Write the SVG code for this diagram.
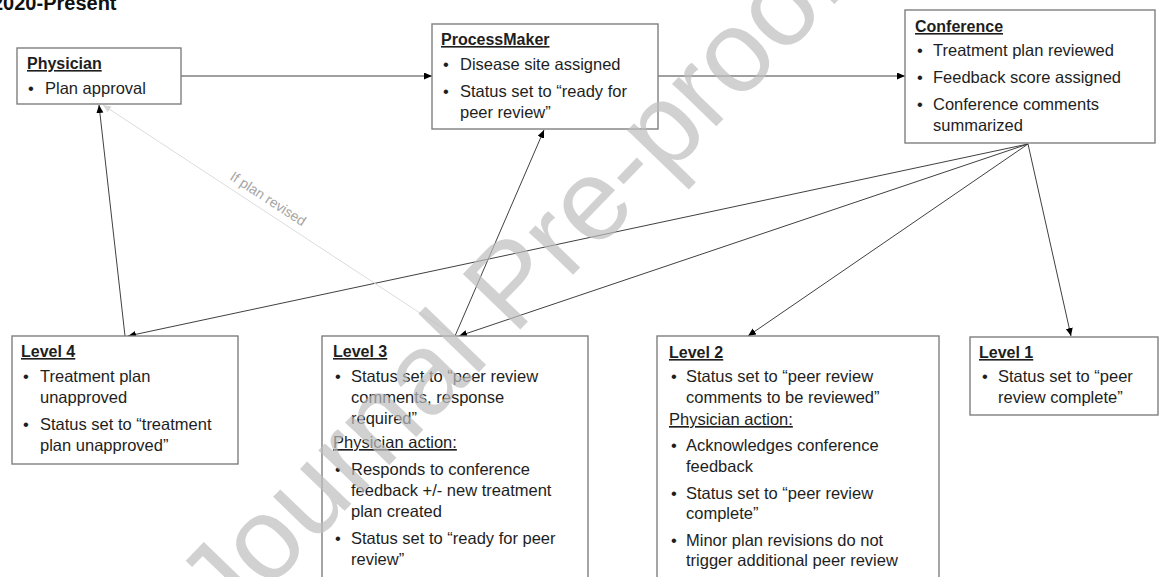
<svg xmlns="http://www.w3.org/2000/svg" width="1160" height="577" viewBox="0 0 1160 577">
<style>
.box{fill:#fff;stroke:#7f7f7f;stroke-width:1.4}
.t{font-family:"Liberation Sans",Arial,sans-serif;font-size:16.5px;fill:#1e1e1e}
.h{font-family:"Liberation Sans",Arial,sans-serif;font-size:16px;font-weight:bold;fill:#1e1e1e;text-decoration:underline}
.u{text-decoration:underline}
.c{stroke:#404040;stroke-width:1;fill:none;marker-end:url(#ah)}
.g{stroke:#dcdcdc;stroke-width:1;fill:none;marker-end:url(#ahg)}
</style>
<defs>
<marker id="ah" markerUnits="userSpaceOnUse" markerWidth="10" markerHeight="8" refX="8" refY="3.5" orient="auto">
<path d="M0,0 L8,3.5 L0,7 z" fill="#000"/>
</marker>
<marker id="ahg" markerUnits="userSpaceOnUse" markerWidth="10" markerHeight="8" refX="8" refY="3.5" orient="auto">
<path d="M0,0 L8,3.5 L0,7 z" fill="#d8d8d8"/>
</marker>
</defs>
<rect width="1160" height="577" fill="#fff"/>
<text x="-8" y="10" font-family="Liberation Sans,Arial,sans-serif" font-size="20" font-weight="bold" fill="#111">2020-Present</text>

<g id="connectors">
<line class="c" x1="181" y1="76" x2="432" y2="76"/>
<line class="c" x1="658" y1="76" x2="905" y2="76"/>
<line class="c" x1="1028" y1="144" x2="128" y2="336"/>
<line class="c" x1="1028" y1="144" x2="459" y2="336"/>
<line class="c" x1="1028" y1="144" x2="748" y2="336"/>
<line class="c" x1="1028" y1="144" x2="1071" y2="336"/>
<line class="c" x1="125" y1="336" x2="99" y2="105"/>
<line class="c" x1="455" y1="336" x2="544" y2="130"/>
<line class="g" x1="455" y1="336" x2="103" y2="105"/>
<text transform="translate(229,179) rotate(33)" font-family="Liberation Sans,Arial,sans-serif" font-size="14" fill="#a6a6a6">If plan revised</text>
</g>

<g id="physician">
<rect class="box" x="17" y="48" width="164" height="56"/>
<text class="h" x="27" y="69">Physician</text>
<text class="t" x="28" y="94">•</text>
<text class="t" x="45" y="94">Plan approval</text>
</g>

<g id="processmaker">
<rect class="box" x="432" y="24" width="226" height="105"/>
<text class="h" x="441" y="45">ProcessMaker</text>
<text class="t" x="443" y="70">•</text>
<text class="t" x="460" y="70">Disease site assigned</text>
<text class="t" x="443" y="97">•</text>
<text class="t" x="460" y="97">Status set to “ready for</text>
<text class="t" x="460" y="118">peer review”</text>
</g>

<g id="conference">
<rect class="box" x="905" y="10" width="250" height="133"/>
<text class="h" x="915" y="32">Conference</text>
<text class="t" x="917" y="56">•</text>
<text class="t" x="933" y="56">Treatment plan reviewed</text>
<text class="t" x="917" y="83">•</text>
<text class="t" x="933" y="83">Feedback score assigned</text>
<text class="t" x="917" y="110">•</text>
<text class="t" x="933" y="110">Conference comments</text>
<text class="t" x="933" y="131">summarized</text>
</g>

<g id="level4">
<rect class="box" x="12" y="336" width="226" height="128"/>
<text class="h" x="21" y="357">Level 4</text>
<text class="t" x="23" y="382">•</text>
<text class="t" x="40" y="382">Treatment plan</text>
<text class="t" x="40" y="403">unapproved</text>
<text class="t" x="23" y="430">•</text>
<text class="t" x="40" y="430">Status set to “treatment</text>
<text class="t" x="40" y="451">plan unapproved”</text>
</g>

<g id="level3">
<rect class="box" x="322" y="336" width="266" height="260"/>
<text class="h" x="333" y="357">Level 3</text>
<text class="t" x="335" y="382">•</text>
<text class="t" x="351" y="382">Status set to “peer review</text>
<text class="t" x="351" y="403">comments, response</text>
<text class="t" x="351" y="424">required”</text>
<text class="t u" x="333" y="448">Physician action:</text>
<text class="t" x="335" y="475">•</text>
<text class="t" x="351" y="475">Responds to conference</text>
<text class="t" x="351" y="496">feedback +/- new treatment</text>
<text class="t" x="351" y="517">plan created</text>
<text class="t" x="335" y="544">•</text>
<text class="t" x="351" y="544">Status set to “ready for peer</text>
<text class="t" x="351" y="565">review”</text>
</g>

<g id="level2">
<rect class="box" x="657" y="336" width="282" height="260"/>
<text class="h" x="669" y="358">Level 2</text>
<text class="t" x="671" y="382">•</text>
<text class="t" x="686" y="382">Status set to “peer review</text>
<text class="t" x="686" y="403">comments to be reviewed”</text>
<text class="t u" x="669" y="425">Physician action:</text>
<text class="t" x="671" y="451">•</text>
<text class="t" x="686" y="451">Acknowledges conference</text>
<text class="t" x="686" y="472">feedback</text>
<text class="t" x="671" y="499">•</text>
<text class="t" x="686" y="499">Status set to “peer review</text>
<text class="t" x="686" y="519">complete”</text>
<text class="t" x="671" y="546">•</text>
<text class="t" x="686" y="546">Minor plan revisions do not</text>
<text class="t" x="686" y="566">trigger additional peer review</text>
</g>

<g id="level1">
<rect class="box" x="970" y="337" width="188" height="78"/>
<text class="h" x="979" y="358">Level 1</text>
<text class="t" x="982" y="382">•</text>
<text class="t" x="998" y="382">Status set to “peer</text>
<text class="t" x="998" y="403">review complete”</text>
</g>

<text id="watermark" transform="translate(227,633) rotate(-46)" font-family="Liberation Sans,Arial,sans-serif" font-size="116" fill="#bdbdbd" fill-opacity="0.7">Journal Pre-proof</text>
</svg>
